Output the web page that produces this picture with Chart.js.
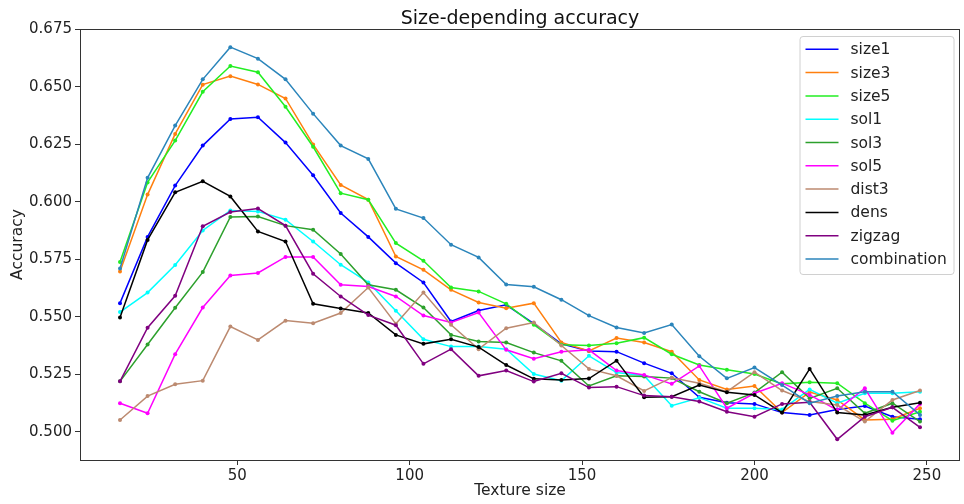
<!DOCTYPE html>
<html>
<head>
<meta charset="utf-8">
<script src="https://cdn.jsdelivr.net/npm/chart.js@4.4.0/dist/chart.umd.min.js"></script>
<style>
  html, body { margin: 0; padding: 0; background: #fff; }
  #wrap { width: 964px; height: 504px; }
</style>
</head>
<body>
<div id="wrap"><canvas id="accChart" width="964" height="504"></canvas></div>
<script>
// texture sizes on the x axis
const textureSizes = [16, 24, 32, 40, 48, 56, 64, 72, 80, 88, 96, 104, 112, 120, 128,
  136, 144, 152, 160, 168, 176, 184, 192, 200, 208, 216, 224, 232, 240, 248];

// accuracy per variant
const size1 = [0.5559, 0.5847, 0.6070, 0.6244, 0.6360, 0.6367, 0.6257, 0.6115, 0.5951, 0.5847,
  0.5733, 0.5649, 0.5479, 0.5527, 0.5552, 0.5470, 0.5382, 0.5351, 0.5348, 0.5298,
  0.5254, 0.5150, 0.5126, 0.5121, 0.5083, 0.5073, 0.5097, 0.5112, 0.5065, 0.5054];
const size3 = [0.5697, 0.6031, 0.6295, 0.6509, 0.6546, 0.6510, 0.6449, 0.6249, 0.6073, 0.6009,
  0.5762, 0.5704, 0.5617, 0.5562, 0.5537, 0.5559, 0.5388, 0.5351, 0.5407, 0.5388,
  0.5348, 0.5225, 0.5184, 0.5199, 0.5083, 0.5172, 0.5138, 0.5051, 0.5054, 0.5102];
const size5 = [0.5738, 0.6084, 0.6266, 0.6478, 0.6590, 0.6563, 0.6413, 0.6239, 0.6037, 0.6009,
  0.5820, 0.5743, 0.5627, 0.5610, 0.5556, 0.5465, 0.5378, 0.5375, 0.5385, 0.5409,
  0.5337, 0.5290, 0.5269, 0.5251, 0.5208, 0.5215, 0.5211, 0.5124, 0.5048, 0.5087];
const sol1 = [0.5520, 0.5605, 0.5725, 0.5875, 0.5962, 0.5958, 0.5922, 0.5827, 0.5726, 0.5649,
  0.5526, 0.5402, 0.5370, 0.5370, 0.5359, 0.5251, 0.5222, 0.5330, 0.5257, 0.5243,
  0.5113, 0.5148, 0.5102, 0.5102, 0.5097, 0.5184, 0.5124, 0.5167, 0.5167, 0.5174];
const sol3 = [0.5219, 0.5379, 0.5539, 0.5694, 0.5934, 0.5936, 0.5896, 0.5878, 0.5773, 0.5639,
  0.5617, 0.5540, 0.5421, 0.5392, 0.5388, 0.5344, 0.5308, 0.5199, 0.5243, 0.5240,
  0.5233, 0.5174, 0.5124, 0.5170, 0.5259, 0.5145, 0.5189, 0.5080, 0.5124, 0.5044];
const sol5 = [0.5124, 0.5080, 0.5337, 0.5540, 0.5679, 0.5690, 0.5760, 0.5760, 0.5639, 0.5631,
  0.5588, 0.5505, 0.5475, 0.5518, 0.5356, 0.5317, 0.5348, 0.5356, 0.5266, 0.5247,
  0.5208, 0.5286, 0.5102, 0.5167, 0.5211, 0.5160, 0.5094, 0.5189, 0.4996, 0.5121];
const dist3 = [0.5051, 0.5155, 0.5206, 0.5222, 0.5457, 0.5399, 0.5483, 0.5472, 0.5516, 0.5627,
  0.5469, 0.5605, 0.5465, 0.5359, 0.5450, 0.5475, 0.5375, 0.5273, 0.5243, 0.5177,
  0.5235, 0.5211, 0.5174, 0.5259, 0.5179, 0.5131, 0.5116, 0.5044, 0.5138, 0.5179];
const dens = [0.5497, 0.5834, 0.6041, 0.6089, 0.6023, 0.5871, 0.5827, 0.5556, 0.5536, 0.5516,
  0.5421, 0.5382, 0.5402, 0.5368, 0.5290, 0.5230, 0.5225, 0.5231, 0.5309, 0.5150,
  0.5152, 0.5203, 0.5172, 0.5160, 0.5083, 0.5273, 0.5083, 0.5073, 0.5106, 0.5126];
const zigzag = [0.5219, 0.5452, 0.5591, 0.5893, 0.5955, 0.5970, 0.5896, 0.5687, 0.5588, 0.5507,
  0.5463, 0.5295, 0.5359, 0.5243, 0.5266, 0.5218, 0.5254, 0.5192, 0.5196, 0.5157,
  0.5152, 0.5131, 0.5087, 0.5065, 0.5121, 0.5128, 0.4967, 0.5065, 0.5106, 0.5019];
const combination = [0.5710, 0.6104, 0.6331, 0.6532, 0.6672, 0.6622, 0.6532, 0.6383, 0.6244, 0.6186,
  0.5969, 0.5929, 0.5813, 0.5758, 0.5640, 0.5630, 0.5574, 0.5505, 0.5453, 0.5429,
  0.5466, 0.5328, 0.5232, 0.5279, 0.5203, 0.5124, 0.5155, 0.5174, 0.5174, 0.5073];

const seriesNames = ['size1', 'size3', 'size5', 'sol1', 'sol3', 'sol5', 'dist3', 'dens', 'zigzag', 'combination'];
const seriesValues = [size1, size3, size5, sol1, sol3, sol5, dist3, dens, zigzag, combination];
const seriesColors = ['#0000ff', '#ff7f0e', '#22ee22', '#00ffff', '#2ca02c', '#ff00ff', '#bc8a70', '#000000', '#800080', '#2b85bb'];

const xTicks = [50, 100, 150, 200, 250];
const yTicks = [0.500, 0.525, 0.550, 0.575, 0.600, 0.625, 0.650, 0.675];

const FONT = 'DejaVu Sans';

// title, frame and legend are drawn by hand (matplotlib look)
const decorations = {
  id: 'decorations',
  afterDatasetsDraw(chart) {
    const { ctx, chartArea: a } = chart;
    ctx.save();
    ctx.strokeStyle = '#333';
    ctx.lineWidth = 1;
    ctx.strokeRect(Math.round(a.left) + 0.5, Math.round(a.top) + 0.5,
      Math.round(a.right - a.left) - 1, Math.round(a.bottom - a.top));
    ctx.restore();
  },
  afterDraw(chart) {
    const { ctx, chartArea: a } = chart;
    ctx.save();
    // title
    ctx.fillStyle = '#111';
    ctx.font = '19px "' + FONT + '"';
    ctx.textAlign = 'center';
    ctx.textBaseline = 'alphabetic';
    ctx.fillText('Size-depending accuracy', (a.left + a.right) / 2, 24);

    // legend box
    const boxW = 154, boxH = 238;
    const bx = a.right - 6.5 - boxW, by = a.top + 7;
    ctx.beginPath();
    ctx.roundRect(bx + 0.5, by + 0.5, boxW, boxH, 3);
    ctx.fillStyle = 'rgba(255,255,255,0.85)';
    ctx.fill();
    ctx.strokeStyle = '#d0d0d0';
    ctx.lineWidth = 1;
    ctx.stroke();

    ctx.font = '15.5px "' + FONT + '"';
    ctx.textAlign = 'left';
    ctx.textBaseline = 'middle';
    chart.data.datasets.forEach((ds, i) => {
      const cy = by + 13.3 + i * 23.3;
      ctx.strokeStyle = ds.borderColor;
      ctx.lineWidth = 1.5;
      ctx.beginPath();
      ctx.moveTo(bx + 6, cy);
      ctx.lineTo(bx + 39, cy);
      ctx.stroke();
      ctx.fillStyle = '#222';
      ctx.fillText(ds.label, bx + 51, cy + 1);
    });
    ctx.restore();
  }
};

const datasets = seriesNames.map((name, i) => ({
  label: name,
  data: textureSizes.map((x, j) => ({ x: x, y: seriesValues[i][j] })),
  borderColor: seriesColors[i],
  backgroundColor: seriesColors[i],
  borderWidth: 1.5,
  pointRadius: 2,
  pointBorderWidth: 0,
  pointBackgroundColor: seriesColors[i],
  tension: 0,
  order: seriesNames.length - i  // later series on top, like matplotlib
}));

new Chart(document.getElementById('accChart'), {
  type: 'line',
  data: { datasets: datasets },
  options: {
    responsive: false,
    animation: false,
    layout: { padding: { top: 29, right: 1, left: 0, bottom: 0 } },
    plugins: {
      legend: { display: false },
      title: { display: false },
      tooltip: { enabled: false }
    },
    scales: {
      x: {
        type: 'linear',
        min: 4.4,
        max: 259.6,
        afterBuildTicks: (scale) => { scale.ticks = xTicks.map(v => ({ value: v })); },
        afterFit: (scale) => { scale.height = 44; },
        grid: { drawOnChartArea: false, drawTicks: true, tickLength: 5, color: '#333' },
        border: { display: false },
        ticks: {
          padding: 2,
          color: '#222',
          font: { family: FONT, size: 15 },
          maxRotation: 0,
          callback: (v) => String(v)
        },
        title: {
          display: true,
          text: 'Texture size',
          color: '#222',
          font: { family: FONT, size: 15.5 },
          padding: { top: 0, bottom: 4 }
        }
      },
      y: {
        min: 0.4877,
        max: 0.6751,
        afterBuildTicks: (scale) => { scale.ticks = yTicks.map(v => ({ value: v })); },
        afterFit: (scale) => { scale.width = 80; },
        grid: { drawOnChartArea: false, drawTicks: true, tickLength: 5, color: '#333' },
        border: { display: false },
        ticks: {
          padding: 3,
          color: '#222',
          font: { family: FONT, size: 15 },
          callback: (v) => v.toFixed(3)
        },
        title: {
          display: true,
          text: 'Accuracy',
          color: '#222',
          font: { family: FONT, size: 15.5 },
          padding: { top: 9, bottom: 0 }
        }
      }
    }
  },
  plugins: [decorations]
});
</script>
</body>
</html>
